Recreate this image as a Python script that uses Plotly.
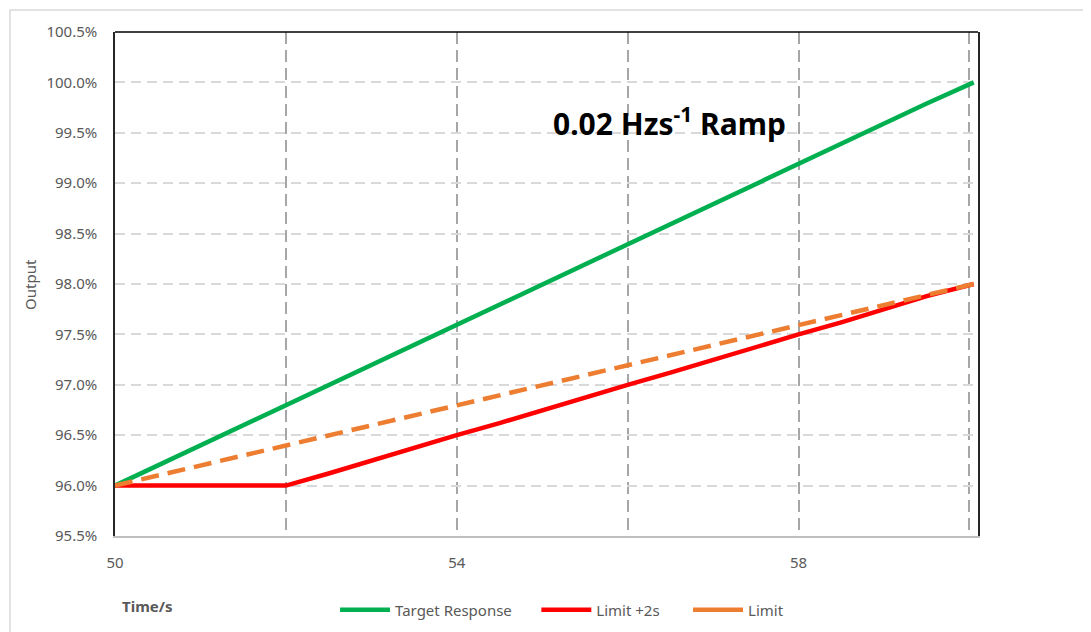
import plotly.graph_objects as go

# time axis (s) and output values (%)
time_s = [50.0, 50.5, 51.0, 51.5, 52.0, 52.5, 53.0, 53.5, 54.0, 54.5, 55.0,
          55.5, 56.0, 56.5, 57.0, 57.5, 58.0, 58.5, 59.0, 59.5, 60.05]
target_response = [96.0, 96.2, 96.4, 96.6, 96.8, 97.0, 97.2, 97.4, 97.6, 97.8, 98.0,
                   98.2, 98.4, 98.6, 98.8, 99.0, 99.2, 99.4, 99.6, 99.79, 100.0]
limit_2s = [96.0, 96.0, 96.0, 96.0, 96.0, 96.12, 96.25, 96.38, 96.5, 96.62, 96.75,
            96.88, 97.0, 97.12, 97.25, 97.38, 97.5, 97.62, 97.75, 97.88, 98.0]
limit = [96.0, 96.1, 96.2, 96.3, 96.4, 96.5, 96.6, 96.7, 96.8, 96.9, 97.0,
         97.1, 97.2, 97.3, 97.4, 97.5, 97.6, 97.7, 97.8, 97.9, 98.0]

series = [
    ("Target Response", target_response, "#00b050", "solid"),
    ("Limit +2s", limit_2s, "#ff0000", "solid"),
    ("Limit", limit, "#ed7d31", "18px,9px"),
]
# extra space after each legend entry, to spread the items out like the original
legend_pad = [5, 6, 0]

FONT = "Noto Sans"
GREY = "#595959"

fig = go.Figure()
for name, vals, color, dash in series:
    fig.add_trace(go.Scatter(x=time_s, y=vals, mode="lines", name=name, showlegend=False,
                             line=dict(color=color, width=4.5, dash=dash)))
# legend entries drawn solid, like the original
for (name, vals, color, dash), pad in zip(series, legend_pad):
    fig.add_trace(go.Scatter(x=[None], y=[None], mode="lines", name=name + "&nbsp;" * pad,
                             line=dict(color=color, width=4.5)))

# page has an 8px body margin, so the figure is a bit smaller than the window
fig.update_layout(
    width=1083, height=624,
    margin=dict(l=107, r=113, t=24, b=96, autoexpand=False),
    paper_bgcolor="white", plot_bgcolor="white",
    font=dict(family=FONT, size=15, color=GREY),
    legend=dict(orientation="h", x=0.518, xanchor="center", y=-0.147, yanchor="middle",
                font=dict(size=15, color=GREY), itemwidth=50, tracegroupgap=0),
)

fig.update_xaxes(
    range=[50, 60.1], tick0=50, dtick=4, ticks="", ticklabelstandoff=12,
    showgrid=True, gridcolor="#a6a6a6", gridwidth=1.5, griddash="12px,6px",
    minor=dict(dtick=2, showgrid=True, gridcolor="#a6a6a6", gridwidth=1.5, griddash="12px,6px"),
    showline=True, linecolor="#bfbfbf", linewidth=1.5, zeroline=False,
    tickfont=dict(size=15, color=GREY),
)
fig.update_yaxes(
    range=[95.5, 100.5], dtick=0.5, tickformat=".1f", ticksuffix="%", ticks="",
    ticklabelstandoff=13,
    showgrid=True, gridcolor="#d9d9d9", gridwidth=1.5, griddash="10px,6px",
    showline=True, linecolor="#262626", linewidth=1.5, mirror=True, zeroline=False,
    tickfont=dict(size=15, color=GREY),
)

# top border of plot area and the outer chart frame
fig.add_shape(type="line", xref="paper", yref="paper", x0=0, x1=1, y0=1, y1=1,
              line=dict(color="black", width=1.5))
fig.add_shape(type="rect", xref="paper", yref="paper", x0=-0.1217, x1=1.2, y0=-0.3, y1=1.0437,
              line=dict(color="#d9d9d9", width=1.5), layer="below")

fig.add_annotation(x=56.49, y=99.607, text="<b>0.02 Hzs<sup>-1</sup> Ramp</b>", showarrow=False,
                   xanchor="center", yanchor="middle",
                   font=dict(family=FONT, size=30, color="black"))
fig.add_annotation(xref="paper", yref="paper", x=0.037, y=-0.139, text="<b>Time/s</b>",
                   xanchor="center", yanchor="middle",
                   showarrow=False, font=dict(size=15, color=GREY))
fig.add_annotation(xref="paper", yref="paper", x=-0.0985, y=0.5, text="Output", textangle=-90,
                   xanchor="center", yanchor="middle",
                   showarrow=False, font=dict(size=15, color=GREY))

fig.write_html("out.html")
